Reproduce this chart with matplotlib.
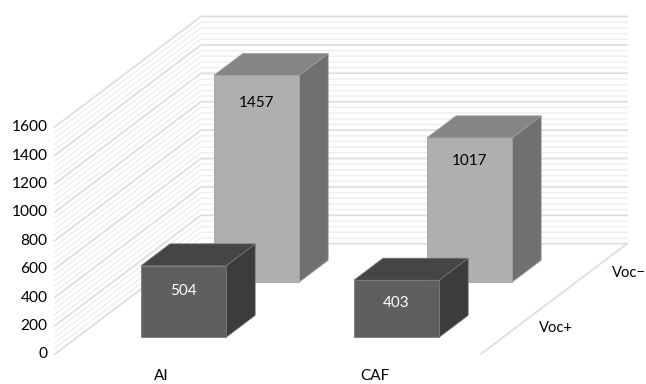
import matplotlib

matplotlib.use("Agg")

import matplotlib.pyplot as plt
from matplotlib.patches import Polygon

categories = ["AI", "CAF"]
series_names = ["Voc+", "Voc\u2212"]
voc_plus = [504, 403]
voc_minus = [1457, 1017]
major_ticks = [0, 200, 400, 600, 800, 1000, 1200, 1400, 1600]
minor_step = 40

# oblique projection, in pixels
ORIGIN_X, ORIGIN_Y = 55.0, 354.0
CAT_WIDTH = 213.0
DEPTH_DX, DEPTH_DY = 73.0, 55.15
PX_PER_UNIT = 0.142
BAR_WIDTH = 0.4
GAP = 0.3

GRID_MAJOR = "#dedede"
GRID_MINOR = "#efefef"
LIGHT_FACES = ("#afafaf", "#858585", "#707070")
DARK_FACES = ("#5f5f5f", "#454545", "#3c3c3c")


def project(cat, depth, value):
    x = ORIGIN_X + CAT_WIDTH * cat + DEPTH_DX * depth
    y = ORIGIN_Y - DEPTH_DY * depth - PX_PER_UNIT * value
    return x, y


def draw_walls(ax):
    # light lines first so the major ones sit on top
    for value in range(0, major_ticks[-1] + 1, minor_step):
        if value in major_ticks:
            continue
        pts = [project(0, 0, value), project(0, 2, value), project(2, 2, value)]
        ax.plot(*zip(*pts), color=GRID_MINOR, lw=1.1, zorder=1)
    for value in major_ticks:
        pts = [project(0, 0, value), project(0, 2, value), project(2, 2, value)]
        ax.plot(*zip(*pts), color=GRID_MAJOR, lw=1.3, zorder=2)
        x, y = project(0, 0, value)
        ax.text(x - 7.5, y + 0.5, str(value), ha="right", va="center", fontsize=11.2, color="#000000")
    # right edge of the floor
    pts = [project(2, 0, 0), project(2, 2, 0)]
    ax.plot(*zip(*pts), color=GRID_MAJOR, lw=1.3, zorder=2)


def draw_bar(ax, cat, depth, value, faces, edge, label_color, label_drop, zorder):
    c0 = cat + GAP
    c1 = c0 + BAR_WIDTH
    d0 = depth + GAP
    d1 = d0 + BAR_WIDTH
    front_color, top_color, side_color = faces
    front = [project(c0, d0, 0), project(c1, d0, 0), project(c1, d0, value), project(c0, d0, value)]
    top = [project(c0, d0, value), project(c1, d0, value), project(c1, d1, value), project(c0, d1, value)]
    side = [project(c1, d0, 0), project(c1, d1, 0), project(c1, d1, value), project(c1, d0, value)]
    ax.add_patch(Polygon(side, closed=True, facecolor=side_color, edgecolor=edge, lw=0.5, zorder=zorder))
    ax.add_patch(Polygon(top, closed=True, facecolor=top_color, edgecolor=edge, lw=0.5, zorder=zorder))
    ax.add_patch(Polygon(front, closed=True, facecolor=front_color, edgecolor=edge, lw=0.6, zorder=zorder))
    x, y = project(c0 + BAR_WIDTH / 2, d0, value)
    ax.text(x, y + label_drop, str(value), ha="center", va="center", fontsize=11, color=label_color, zorder=zorder + 1)


def main():
    plt.rcParams["font.family"] = ["Lato", "DejaVu Sans"]
    fig = plt.figure(figsize=(6.46, 3.84), dpi=100)
    ax = fig.add_axes([0, 0, 1, 1])
    ax.set_xlim(0, 646)
    ax.set_ylim(384, 0)
    ax.axis("off")

    draw_walls(ax)

    # back row first, front row overlaps it
    for i, value in enumerate(voc_minus):
        draw_bar(ax, i, 1, value, LIGHT_FACES, "#a0a0a0", "#000000", [27.5, 23][i], 5)
    for i, value in enumerate(voc_plus):
        draw_bar(ax, i, 0, value, DARK_FACES, "#7a7a7a", "#ffffff", [25, 23][i], 7)

    for i, name in enumerate(categories):
        x, _ = project(i + 0.5, 0, 0)
        ax.text(x, 376, name, ha="center", va="center", fontsize=11, color="#000000")

    # series names sit just right of the floor edge
    for j, name in enumerate(series_names):
        x, y = project(2, j + 0.5, 0)
        ax.text(x + 38, y + 1.5, name, ha="center", va="center", fontsize=10.6, color="#000000")

    fig.savefig("out.png", dpi=100)
    plt.close(fig)


if __name__ == "__main__":
    main()
